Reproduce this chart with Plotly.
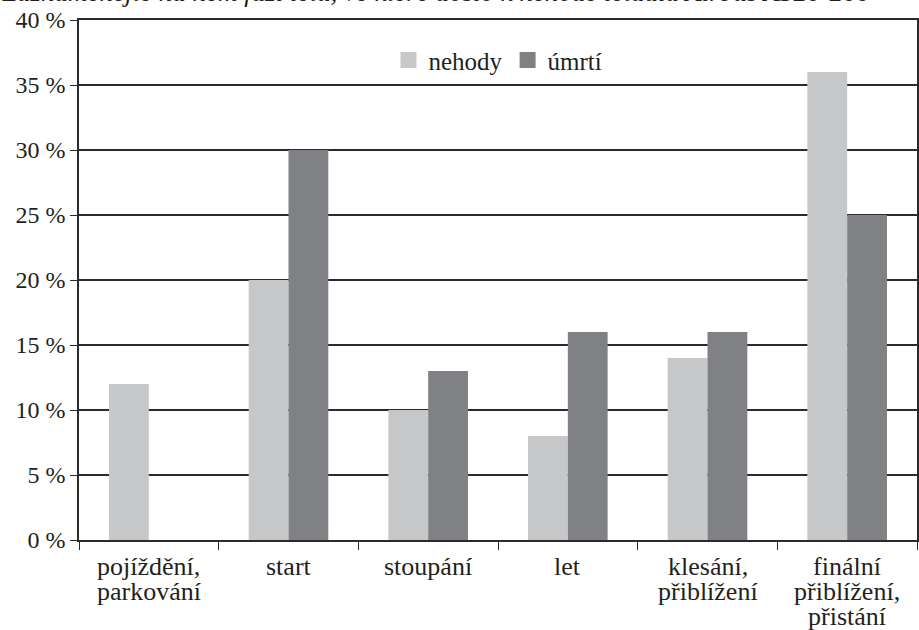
import plotly.graph_objects as go

categories = ["pojíždění, parkování", "start", "stoupání", "let",
              "klesání, přiblížení", "finální přiblížení, přistání"]
category_lines = [["pojíždění,", "parkování"], ["start"], ["stoupání"], ["let"],
                  ["klesání,", "přiblížení"], ["finální", "přiblížení,", "přistání"]]
nehody = [12, 20, 10, 8, 14, 36]
umrti = [0, 30, 13, 16, 16, 25]
y_ticks = [0, 5, 10, 15, 20, 25, 30, 35, 40]
y_tick_labels = ["0 %", "5 %", "10 %", "15 %", "20 %", "25 %", "30 %", "35 %", "40 %"]
title_text = "Zaznamenejte na něm fázi letu, ve které došlo k nehodě letadla Airbus A320-200"

FONT = "Liberation Serif"
LINE = "#2b2b2b"
TXT = "#231f20"
C_LIGHT = "#c6c7c9"
C_DARK = "#808184"
LBL_SIZE = 26
LBL_STEP = 25

fig = go.Figure()
fig.add_trace(go.Bar(x=categories, y=nehody, name="nehody", showlegend=False,
                     marker=dict(color=C_LIGHT, line=dict(width=0))))
fig.add_trace(go.Bar(x=categories, y=umrti, name="úmrtí", showlegend=False,
                     marker=dict(color=C_DARK, line=dict(width=0))))
# legend entries with large square swatches
fig.add_trace(go.Scatter(x=[None], y=[None], mode="markers", name="nehody",
                         marker=dict(symbol="square", size=20, color=C_LIGHT)))
fig.add_trace(go.Scatter(x=[None], y=[None], mode="markers", name="úmrtí",
                         marker=dict(symbol="square", size=18, color=C_DARK)))

annotations = [dict(text="<i>" + title_text + "</i>", xref="paper", yref="paper",
                    x=-0.094, xanchor="left", y=1, yanchor="bottom", yshift=11,
                    showarrow=False, font=dict(family=FONT, size=27, color=TXT))]
# category labels, one text per line so the line spacing can be tight
for cat, lines in zip(categories, category_lines):
    for i, line in enumerate(lines):
        annotations.append(dict(text=line, xref="x", yref="paper", x=cat, y=0,
                                xanchor="center", yanchor="top",
                                yshift=-10 - i * LBL_STEP, showarrow=False,
                                font=dict(family=FONT, size=LBL_SIZE, color=TXT)))

fig.update_layout(
    width=919, height=630, autosize=False,
    margin=dict(l=79, r=2, t=20, b=90, pad=0, autoexpand=False),
    paper_bgcolor="white", plot_bgcolor="white",
    barmode="group", bargap=0.43, bargroupgap=0,
    font=dict(family=FONT, size=21, color=TXT),
    showlegend=True,
    legend=dict(orientation="h", x=0.5, xanchor="center", y=0.967, yanchor="top",
                font=dict(family=FONT, size=25, color=TXT),
                traceorder="normal", bgcolor="rgba(0,0,0,0)", itemwidth=30),
    xaxis=dict(type="category", tickson="boundaries", ticks="outside", ticklen=8,
               tickcolor=LINE, tickwidth=1, showline=True, linecolor=LINE, linewidth=1.5,
               mirror=True, showgrid=False, automargin=False, showticklabels=False),
    yaxis=dict(range=[0, 40], tickvals=y_ticks, ticktext=y_tick_labels,
               ticks="outside", ticklen=7, tickcolor=LINE, tickwidth=1,
               showline=True, linecolor=LINE, linewidth=1.5, mirror=True,
               showgrid=True, gridcolor=LINE, gridwidth=1.5, zeroline=False,
               automargin=False,
               tickfont=dict(family=FONT, size=24, color=TXT)),
    annotations=annotations,
)

fig.write_html("out.html", config={"displayModeBar": False},
               post_script="document.body.style.margin='0';document.body.style.overflow='hidden';")
